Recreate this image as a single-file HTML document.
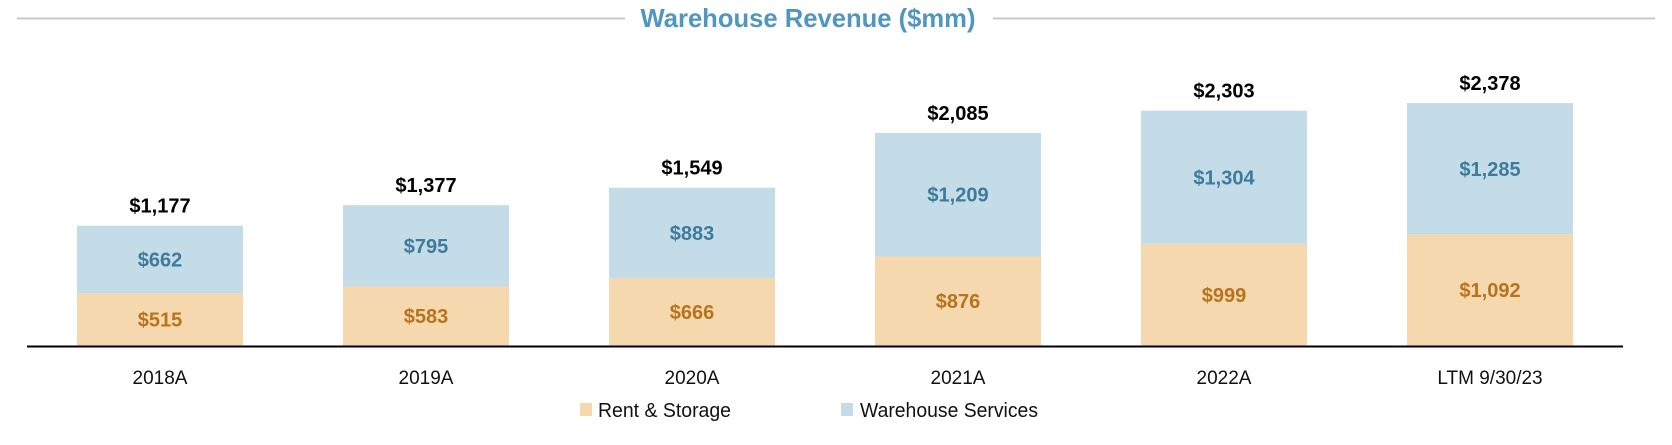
<!DOCTYPE html>
<html><head><meta charset="utf-8"><style>
html,body{margin:0;padding:0;background:#fff;}
svg{display:block;font-family:"Liberation Sans",Arial,sans-serif;}
</style></head><body>
<svg id="chart" width="1672" height="445" viewBox="0 0 1672 445">
<line x1="17" y1="18.5" x2="625" y2="18.5" stroke="#c8c8c8" stroke-width="2"/>
<line x1="993" y1="18.5" x2="1655" y2="18.5" stroke="#c8c8c8" stroke-width="2"/>
<text x="808" y="27" text-anchor="middle" font-size="26" font-weight="bold" fill="#4f97bf" textLength="335" lengthAdjust="spacingAndGlyphs">Warehouse Revenue ($mm)</text>
<g id="bars"></g>
<line x1="27" y1="346.5" x2="1623" y2="346.5" stroke="#000" stroke-width="2"/>
<rect x="580" y="403" width="12" height="13" fill="#f5d8ae"/>
<text x="598" y="417" font-size="20" fill="#111" textLength="133" lengthAdjust="spacingAndGlyphs">Rent &amp; Storage</text>
<rect x="841" y="403" width="12" height="13" fill="#c4dce8"/>
<text x="860" y="417" font-size="20" fill="#111" textLength="178" lengthAdjust="spacingAndGlyphs">Warehouse Services</text>
</svg>
<script>
const categories = ["2018A","2019A","2020A","2021A","2022A","LTM 9/30/23"];
const rentValues = [515,583,666,876,999,1092];
const servicesValues = [662,795,883,1209,1304,1285];
const totalValues = [1177,1377,1549,2085,2303,2378];

const NS = "http://www.w3.org/2000/svg";
const g = document.getElementById("bars");
const baseY = 346, pxPerUnit = 243 / 2378, barW = 166;
function xCenter(i){ return 160 + i * 266; }
function yPos(v){ return baseY - v * pxPerUnit; }
function fmt(v){ return "$" + v.toLocaleString("en-US"); }
function mk(tag, attrs){ const e = document.createElementNS(NS, tag); for (const k in attrs) e.setAttribute(k, attrs[k]); return e; }

categories.forEach((c, i) => {
  const cx = xCenter(i), r = rentValues[i], s = servicesValues[i], t = r + s;
  const rr = mk("rect", {x: cx - barW/2, y: yPos(r), width: barW, height: baseY - yPos(r), fill: "#f5d8ae"});
  
  
  g.appendChild(rr);
  const sr = mk("rect", {x: cx - barW/2, y: yPos(t), width: barW, height: yPos(r) - yPos(t), fill: "#c4dce8"});
  
  
  g.appendChild(sr);
  const rl = mk("text", {x: cx, y: (yPos(r) + baseY) / 2 + 7, "text-anchor": "middle", "font-size": 20, "font-weight": "bold", fill: "#b8731e"});
  rl.textContent = fmt(r);
  
  
  g.appendChild(rl);
  const sl = mk("text", {x: cx, y: (yPos(t) + yPos(r)) / 2 + 7, "text-anchor": "middle", "font-size": 20, "font-weight": "bold", fill: "#3e7b9b"});
  sl.textContent = fmt(s);
  
  
  g.appendChild(sl);
  const tl = mk("text", {x: cx, y: yPos(t) - 13, "text-anchor": "middle", "font-size": 20, "font-weight": "bold", fill: "#000"});
  tl.textContent = fmt(totalValues[i]);
  
  
  g.appendChild(tl);
  const cl = mk("text", {x: cx, y: 384, "text-anchor": "middle", "font-size": 19, fill: "#111"});
  cl.textContent = c;
  
  
  g.appendChild(cl);
});
</script>
</body></html>
